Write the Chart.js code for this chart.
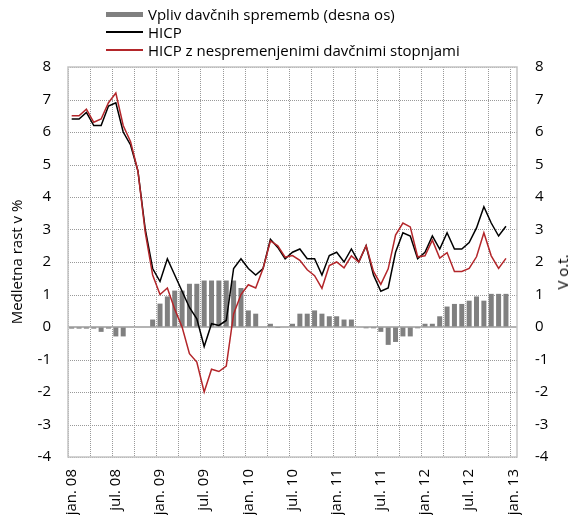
<!DOCTYPE html>
<html>
<head>
<meta charset="utf-8">
<script src="https://cdn.jsdelivr.net/npm/chart.js@4"></script>
<style>
    html, body { margin: 0; padding: 0; background: #fff; }
    #wrap { position: relative; width: 576px; height: 515px; font-family: 'Open Sans', sans-serif; }
    #legend { position: absolute; left: 106px; top: 5px; font-size: 15px; color: #000; }
    .item { display: flex; align-items: center; height: 18px; white-space: nowrap; }
    .key { width: 37px; margin-right: 5px; }
    #right-title { position: absolute; left: 562px; top: 272px; transform: translate(-50%, -50%) rotate(-90deg); font-size: 15px; white-space: nowrap; }
</style>
</head>
<body>
<div id="wrap">
    <canvas id="chart" width="576" height="515"></canvas>
    <div id="legend"></div>
    <div id="right-title">V o.t.</div>
</div>
<script>
const monthNames = ['jan.', 'feb.', 'mar.', 'apr.', 'maj.', 'jun.', 'jul.', 'avg.', 'sep.', 'okt.', 'nov.', 'dec.'];
const years = ['08', '09', '10', '11', '12', '13'];

// HICP, medletna rast v %
const hicp = [6.4, 6.4, 6.6, 6.2, 6.2, 6.8, 6.9, 6.0, 5.6, 4.8, 3.0, 1.8,
    1.4, 2.1, 1.6, 1.1, 0.6, 0.25, -0.6, 0.1, 0.05, 0.2, 1.8, 2.1,
    1.8, 1.6, 1.8, 2.7, 2.45, 2.1, 2.3, 2.4, 2.1, 2.1, 1.6, 2.2,
    2.3, 2.0, 2.4, 2.0, 2.5, 1.6, 1.1, 1.2, 2.3, 2.9, 2.8, 2.1,
    2.3, 2.8, 2.4, 2.9, 2.4, 2.4, 2.6, 3.05, 3.7, 3.2, 2.8, 3.1, null];

// HICP z nespremenjenimi davčnimi stopnjami
const hicpConstTax = [6.5, 6.5, 6.7, 6.3, 6.4, 6.9, 7.2, 6.2, 5.7, 4.8, 2.9, 1.6,
    1.0, 1.2, 0.55, 0.0, -0.82, -1.08, -2.0, -1.3, -1.37, -1.2, 0.4, 1.0,
    1.3, 1.2, 1.8, 2.65, 2.5, 2.15, 2.2, 2.05, 1.76, 1.58, 1.19, 1.89,
    2.0, 1.82, 2.19, 2.0, 2.5, 1.71, 1.31, 1.79, 2.83, 3.2, 3.08, 2.16,
    2.19, 2.67, 2.12, 2.29, 1.71, 1.71, 1.8, 2.16, 2.9, 2.19, 1.8, 2.11, null];

// Vpliv davčnih sprememb (desna os), o.t.
const taxImpact = [-0.05, -0.05, -0.05, -0.05, -0.15, -0.05, -0.29, -0.29, 0, 0, 0, 0.23,
    0.72, 0.94, 1.12, 1.12, 1.33, 1.33, 1.43, 1.43, 1.43, 1.43, 1.43, 1.2,
    0.51, 0.41, 0, 0.1, -0.03, 0, 0.1, 0.41, 0.41, 0.51, 0.41, 0.33,
    0.33, 0.23, 0.23, 0, -0.04, -0.04, -0.15, -0.55, -0.46, -0.29, -0.29, -0.04,
    0.1, 0.1, 0.33, 0.63, 0.71, 0.71, 0.81, 0.94, 0.81, 1.02, 1.02, 1.02, null];

const months = [];
years.forEach(y => monthNames.forEach(m => months.push(m + ' ' + y)));
months.length = 61; // jan. 08 - jan. 13

const legendItems = [
    { label: 'Vpliv davčnih sprememb (desna os)', color: '#808080', height: 5 },
    { label: 'HICP', color: '#000000', height: 1.5 },
    { label: 'HICP z nespremenjenimi davčnimi stopnjami', color: '#b3262a', height: 1.5 }
];

const font = { family: "'Open Sans', sans-serif", size: 15 };
const gridColor = '#999999';

// dotted grid (every quarter / every unit), zero line and frame
const gridPlugin = {
    id: 'dottedGrid',
    beforeDatasetsDraw(chart) {
        const { ctx, chartArea, scales } = chart;
        const { left, right, top, bottom } = chartArea;
        const x = scales.x;
        const y = scales.y;
        const step = x.getPixelForValue(1) - x.getPixelForValue(0);
        ctx.save();
        ctx.lineWidth = 1;
        ctx.strokeStyle = gridColor;
        ctx.setLineDash([1, 1]);
        ctx.beginPath();
        y.ticks.forEach((t, i) => {
            const py = Math.round(y.getPixelForTick(i)) + 0.5;
            ctx.moveTo(left, py);
            ctx.lineTo(right, py);
        });
        for (let i = 0; i < months.length; i += 3) {
            const px = Math.round(x.getPixelForValue(i) - step / 2) + 0.5;
            ctx.moveTo(px, top);
            ctx.lineTo(px, bottom);
        }
        ctx.stroke();

        ctx.setLineDash([]);
        const y0 = y.getPixelForValue(0);
        ctx.strokeStyle = '#b4b4b4';
        ctx.lineWidth = 2;
        ctx.beginPath();
        ctx.moveTo(left, y0);
        ctx.lineTo(right, y0);
        ctx.stroke();
        ctx.strokeStyle = '#c4c4c4';
        ctx.lineWidth = 1.5;
        ctx.strokeRect(left, top, right - left, bottom - top);
        ctx.restore();
    }
};

document.addEventListener('DOMContentLoaded', () => {
    const legendDiv = document.getElementById('legend');
    legendItems.forEach(item => {
        const row = document.createElement('div');
        row.className = 'item';
        row.innerHTML = `<span class="key" style="height:${item.height}px;background:${item.color}"></span><span>${item.label}</span>`;
        legendDiv.appendChild(row);
    });

    new Chart(document.getElementById('chart'), {
        type: 'bar',
        data: {
            labels: months,
            datasets: [
                {
                    type: 'line',
                    label: 'HICP z nespremenjenimi davčnimi stopnjami',
                    data: hicpConstTax,
                    borderColor: '#b3262a',
                    borderWidth: 1.5,
                    pointRadius: 0,
                    tension: 0,
                    yAxisID: 'y',
                    order: 1
                },
                {
                    type: 'line',
                    label: 'HICP',
                    data: hicp,
                    borderColor: '#000000',
                    borderWidth: 1.5,
                    pointRadius: 0,
                    tension: 0,
                    yAxisID: 'y',
                    order: 2
                },
                {
                    label: 'Vpliv davčnih sprememb (desna os)',
                    data: taxImpact,
                    backgroundColor: '#808080',
                    barPercentage: 0.68,
                    categoryPercentage: 1,
                    yAxisID: 'y1',
                    order: 3
                }
            ]
        },
        options: {
            responsive: false,
            animation: false,
            layout: { padding: { top: 67, left: 0, right: 0, bottom: 0 } },
            plugins: {
                legend: { display: false },
                tooltip: { enabled: false }
            },
            scales: {
                x: {
                    afterFit: (s) => { s.height = 58; },
                    border: { display: false },
                    grid: { drawOnChartArea: false, drawTicks: false },
                    ticks: {
                        autoSkip: false,
                        minRotation: 90,
                        maxRotation: 90,
                        padding: 12,
                        color: '#000',
                        font: font,
                        callback: function (val, index) {
                            return index % 6 === 0 ? this.getLabelForValue(val) : '';
                        }
                    }
                },
                y: {
                    position: 'left',
                    min: -4,
                    max: 8,
                    afterFit: (s) => { s.width = 68; },
                    border: { display: false },
                    grid: { drawOnChartArea: false, drawTicks: false },
                    ticks: { stepSize: 1, padding: 17, color: '#000', font: font },
                    title: {
                        display: true,
                        text: 'Medletna rast v %',
                        color: '#000',
                        font: font,
                        padding: { top: 9, bottom: 0 }
                    }
                },
                y1: {
                    position: 'right',
                    min: -4,
                    max: 8,
                    afterFit: (s) => { s.width = 59; },
                    border: { display: false },
                    grid: { drawOnChartArea: false, drawTicks: false },
                    ticks: { stepSize: 1, padding: 18, color: '#000', font: font }
                }
            }
        },
        plugins: [gridPlugin]
    });
});
</script>
</body>
</html>
